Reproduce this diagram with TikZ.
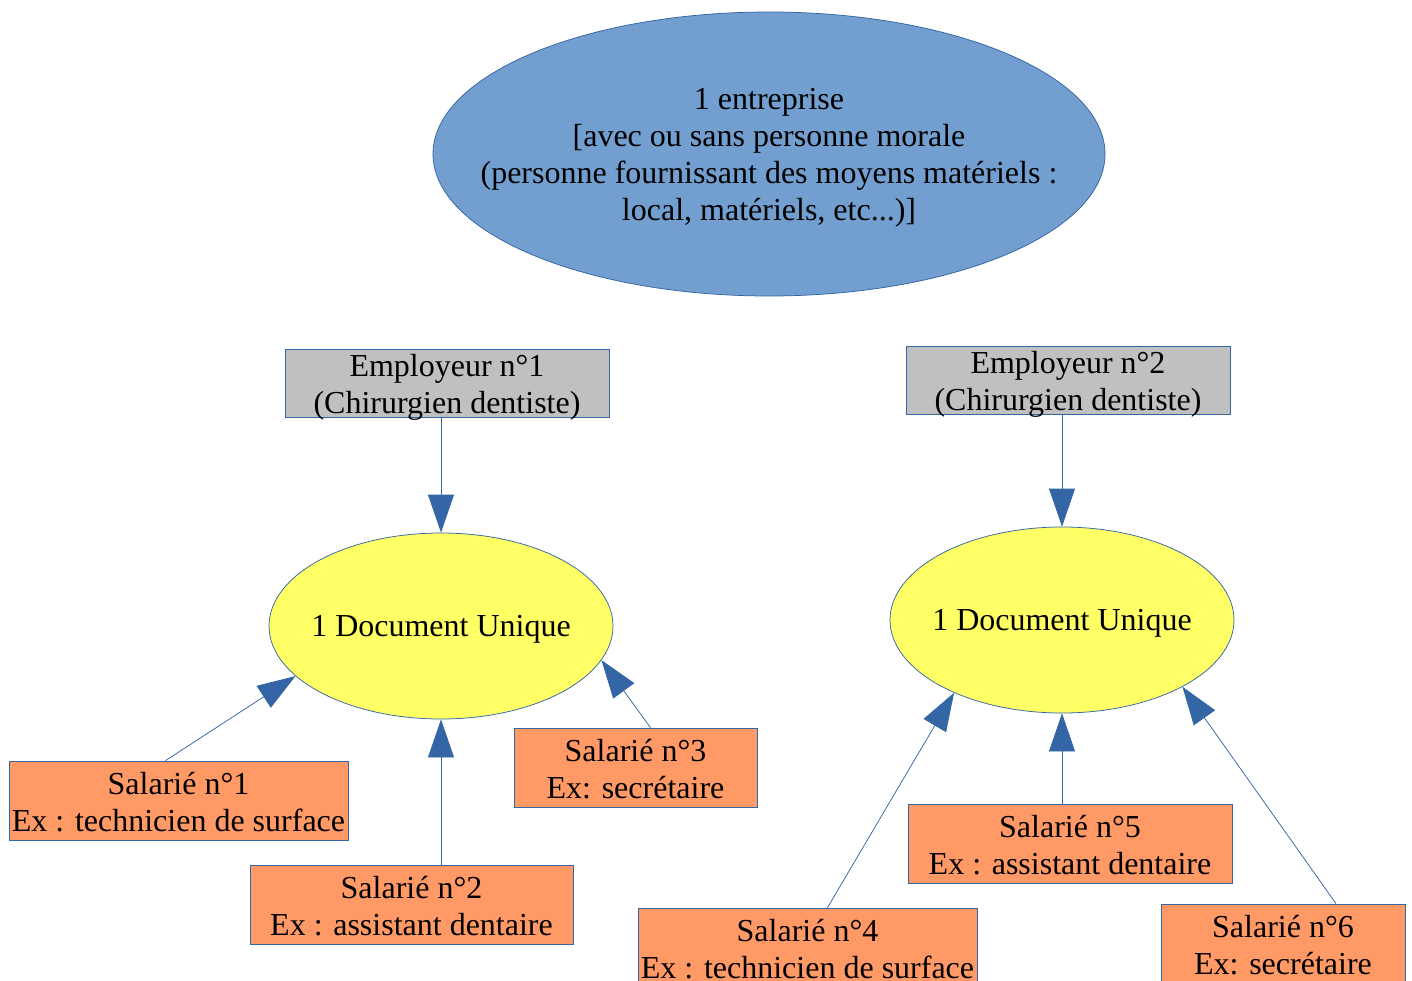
\documentclass[tikz,border=0pt]{standalone}
\usepackage{fontspec}
\setmainfont{Liberation Serif}
\usetikzlibrary{arrows.meta}
\usetikzlibrary{shapes.geometric}
\definecolor{mybleu}{RGB}{114,159,207}
\definecolor{myline}{RGB}{52,101,164}
\definecolor{myjaune}{RGB}{255,255,102}
\definecolor{myorange}{RGB}{255,153,102}
\definecolor{mygris}{RGB}{192,192,192}

\begin{document}
\begin{tikzpicture}[x=1pt,y=-1pt,
  every node/.style={font=\fontsize{32}{37}\selectfont, align=center, inner sep=0pt, draw=myline, line width=0.75pt},
  salarie/.style={fill=myorange, minimum height=79pt, text height=61pt, text depth=0pt},
  employeur/.style={fill=mygris, minimum width=324pt, minimum height=68pt, text height=60pt, text depth=0pt},
  docu/.style={ellipse, fill=myjaune, minimum width=344pt, minimum height=186pt, inner xsep=-8.5pt, text height=22pt, text depth=2pt},
  fleche/.style={myline, line width=0.75pt, -{Triangle[length=38pt,width=26pt]}}]

  \useasboundingbox (0,0) rectangle (1412,981);
  \clip (0,0) rectangle (1412,981);

  %Entreprise
  \node[ellipse, fill=mybleu, minimum width=672pt, minimum height=284pt, inner xsep=-51pt, text height=134pt, text depth=0pt] (ent) at (769,154)
    {1 entreprise\\{[}avec ou sans personne morale\\(personne fournissant des moyens matériels :\\local, matériels, etc...)]};

  %Employeurs
  \node[employeur] (emp1) at (447,383) {Employeur n°1\\(Chirurgien dentiste)};
  \node[employeur] (emp2) at (1068,380) {Employeur n°2\\(Chirurgien dentiste)};

  %Documents uniques
  \node[docu] (du1) at (441,626) {1 Document Unique};
  \node[docu] (du2) at (1062,620) {1 Document Unique};

  %Salaries
  \node[salarie, minimum width=339pt] (s1) at (178.5,800.5) {Salarié n°1\\Ex : technicien de surface};
  \node[salarie, minimum width=323pt] (s2) at (411.5,904.5) {Salarié n°2\\Ex : assistant dentaire};
  \node[salarie, minimum width=243pt] (s3) at (635.5,767.5) {Salarié n°3\\Ex: secrétaire};
  \node[salarie, minimum width=339pt] (s4) at (807.5,947.5) {Salarié n°4\\Ex : technicien de surface};
  \node[salarie, minimum width=324pt] (s5) at (1070,843.5) {Salarié n°5\\Ex : assistant dentaire};
  \node[salarie, minimum width=244pt] (s6) at (1283,943.5) {Salarié n°6\\Ex: secrétaire};

  %Fleches
  \draw[fleche] (emp1.south -| du1) -- (du1.north);
  \draw[fleche] (emp2.south -| du2) -- (du2.north);
  \draw[fleche] ([xshift=-13pt]s1.north) -- (du1.199);
  \draw[fleche] (du1.south |- s2.north) -- (du1.south);
  \draw[fleche] ([xshift=15pt]s3.north) -- (du1.-12);
  \draw[fleche] ([xshift=20pt]s4.north) -- (du2.214);
  \draw[fleche] (du2.south |- s5.north) -- (du2.south);
  \draw[fleche] ([xshift=53pt]s6.north) -- (du2.-29);

\end{tikzpicture}
\end{document}
